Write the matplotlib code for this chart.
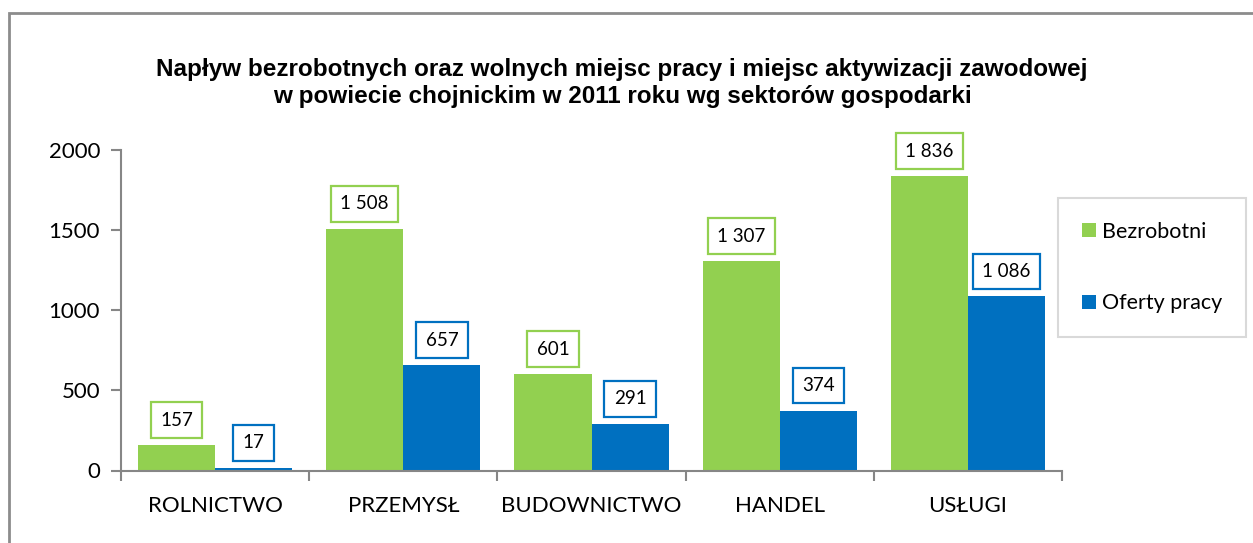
import matplotlib.pyplot as plt
import numpy as np
from matplotlib.patches import Rectangle

# data
categories = ['ROLNICTWO', 'PRZEMYSŁ', 'BUDOWNICTWO', 'HANDEL', 'USŁUGI']
bezrobotni = [157, 1508, 601, 1307, 1836]
oferty = [17, 657, 291, 374, 1086]
series_names = ['Bezrobotni', 'Oferty pracy']
title = ('Napływ bezrobotnych oraz wolnych miejsc pracy i miejsc aktywizacji zawodowej\n'
         'w powiecie chojnickim w 2011 roku wg sektorów gospodarki')

green = '#92D050'
blue = '#0070C0'
axcol = '#868686'

plt.rcParams['font.family'] = ['Lato', 'DejaVu Sans']

fig = plt.figure(figsize=(12.53, 5.43), dpi=100)
ax = fig.add_axes([121/1253, 1-470.5/543, (1062-121)/1253, (470.5-150)/543])

# outer chart border (only top/left visible in the picture)
fig.patches.append(Rectangle((9/1253, -0.1), 1.2, 1-13/543+0.1, transform=fig.transFigure,
                             fill=False, edgecolor='#8c8c8c', linewidth=2))

x = np.arange(len(categories))
w = 0.41
b1 = ax.bar(x - w/2, bezrobotni, w, color=green, label=series_names[0])
b2 = ax.bar(x + w/2, oferty, w, color=blue, label=series_names[1])

def fmt(v):
    return f'{v:,}'.replace(',', ' ')

for bars, vals, col in [(b1, bezrobotni, green), (b2, oferty, blue)]:
    for r, v in zip(bars, vals):
        ax.annotate(fmt(v), (r.get_x() + r.get_width()/2, v), xytext=(0, 18),
                    textcoords='offset points', ha='center', va='center', fontsize=13.5,
                    bbox=dict(boxstyle='square,pad=0.5', fc='white', ec=col, lw=1.6))

ax.set_xlim(-0.5, len(categories) - 0.5)
ax.set_ylim(0, 2000)
ax.set_yticks([0, 500, 1000, 1500, 2000])
ax.tick_params(axis='y', labelsize=16, color=axcol, length=7, width=1.5, pad=8)
ax.set_xticks(x)
ax.set_xticklabels(categories)
ax.tick_params(axis='x', which='major', length=0, labelsize=16, pad=18)
ax.set_xticks(np.arange(len(categories) + 1) - 0.5, minor=True)
ax.tick_params(axis='x', which='minor', length=7, width=1.5, color=axcol)

for s in ['top', 'right']:
    ax.spines[s].set_visible(False)
for s in ['left', 'bottom']:
    ax.spines[s].set_color(axcol)
    ax.spines[s].set_linewidth(1.5)

fig.text(622/1253, 1-83/543, title, ha='center', va='center', fontsize=17.5,
         fontweight='bold', family='Liberation Sans', linespacing=1.22)

leg = fig.legend(loc='upper left', bbox_to_anchor=(1058/1253, 1-198/543), fontsize=15.5,
                 frameon=True, fancybox=False, edgecolor='#d0d0d0', handlelength=0.65,
                 handleheight=0.65, handletextpad=0.3, labelspacing=2.4, borderpad=1.1,
                 borderaxespad=0)
leg.get_frame().set_linewidth(1.5)

fig.savefig('out.png', dpi=100)
